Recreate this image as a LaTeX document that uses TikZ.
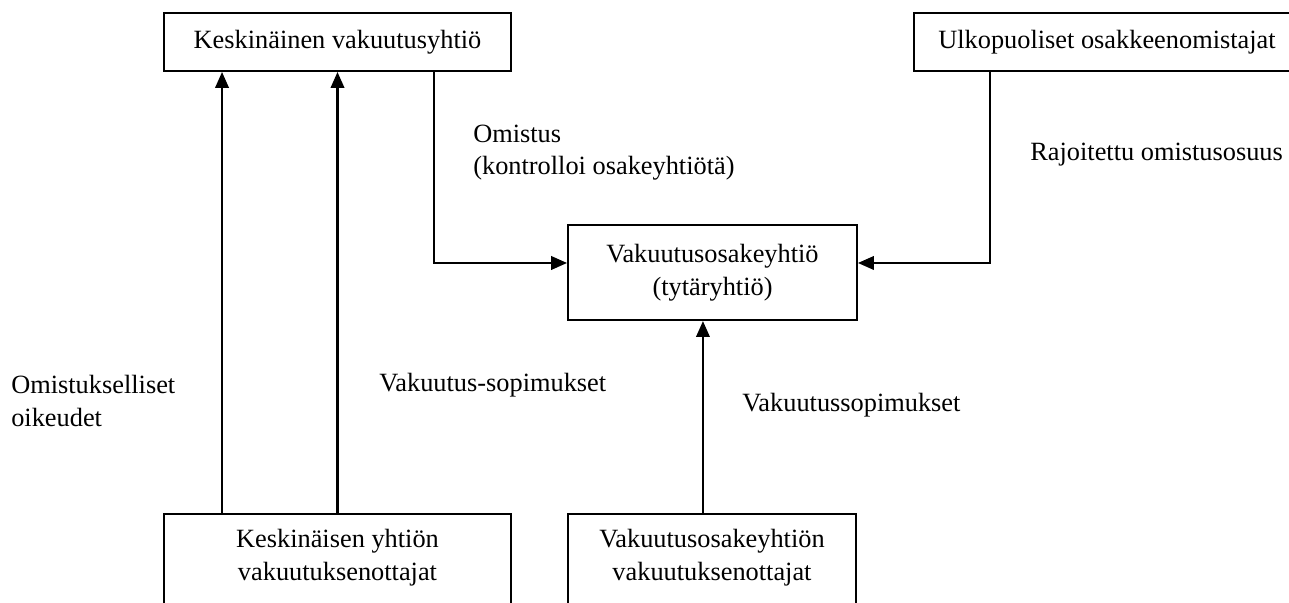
\documentclass[tikz,border=0pt]{standalone}
\usepackage{fontspec}
\setmainfont{Liberation Serif}
\usetikzlibrary{arrows.meta,positioning}

\tikzset{
  laatikko/.style={draw, line width=1.3pt, inner sep=0pt},
  nuoli/.style={line width=1.3pt, -{Triangle[length=10pt,width=8.5pt]}},
  teksti/.style={align=center, inner sep=0pt, font=\fontsize{16.6}{20.5}\selectfont},
  selite/.style={align=left, anchor=west, inner sep=0pt, font=\fontsize{16.6}{20.5}\selectfont}
}

\begin{document}
\begin{tikzpicture}[x=0.63pt,y=-0.63pt]
        \path[use as bounding box, clip] (0,0) rectangle (1289,602);
        % Ylarivi: keskinainen yhtio ja ulkopuoliset omistajat
        \node[laatikko, teksti, minimum width=218.6pt, minimum height=36.5pt] (ky) at (337.5,42) {Keskinäinen vakuutusyhtiö};
        \node[laatikko, teksti, minimum width=243.2pt, minimum height=36.5pt] (uo) at (1107,42) {Ulkopuoliset osakkeenomistajat};
        % Keskella: tytaryhtio
        \node[laatikko, teksti, minimum width=182pt, minimum height=59.9pt] (vo) at (712.5,272.5) {Vakuutusosakeyhtiö\\(tytäryhtiö)};
        % Alarivi: vakuutuksenottajat (laatikot jatkuvat kuvan alle)
        \node[laatikko, minimum width=218.6pt, minimum height=75pt, anchor=north] (kv) at (337.5,513) {};
        \node[teksti] (kvt) at (337.5,557.5) {Keskinäisen yhtiön\\vakuutuksenottajat};
        \node[laatikko, minimum width=181.4pt, minimum height=75pt, anchor=north] (vs) at (712,513) {};
        \node[teksti] (vst) at (712,557.5) {Vakuutusosakeyhtiön\\vakuutuksenottajat};
        % Nuolet
        \draw[nuoli] ([xshift=37.2pt]kv.north west) -- ([xshift=37.2pt]kv.north west |- ky.south);
        \draw[nuoli] (kv.north) -- (kv.north |- ky.south);
        \draw[nuoli] ([xshift=-49.1pt]ky.south east) |- ([yshift=6pt]vo.west);
        \draw[nuoli] ([xshift=48.5pt]uo.south west) |- ([yshift=6pt]vo.east);
        \draw[nuoli] ([xshift=-5.7pt]vs.north) -- ([xshift=-5.7pt]vs.north |- vo.south);
        % Selitteet
        \node[selite] (om) at (473,152.5) {Omistus\\(kontrolloi osakeyhtiötä)};
        \node[selite] (ro) at (1030,155) {Rajoitettu omistusosuus};
        \node[selite] (oo) at (11,401) {Omistukselliset\\oikeudet};
        \node[selite] (vsp) at (379,385) {Vakuutus-sopimukset};
        \node[selite] (vsq) at (742,405) {Vakuutussopimukset};
    \end{tikzpicture}
\end{document}
